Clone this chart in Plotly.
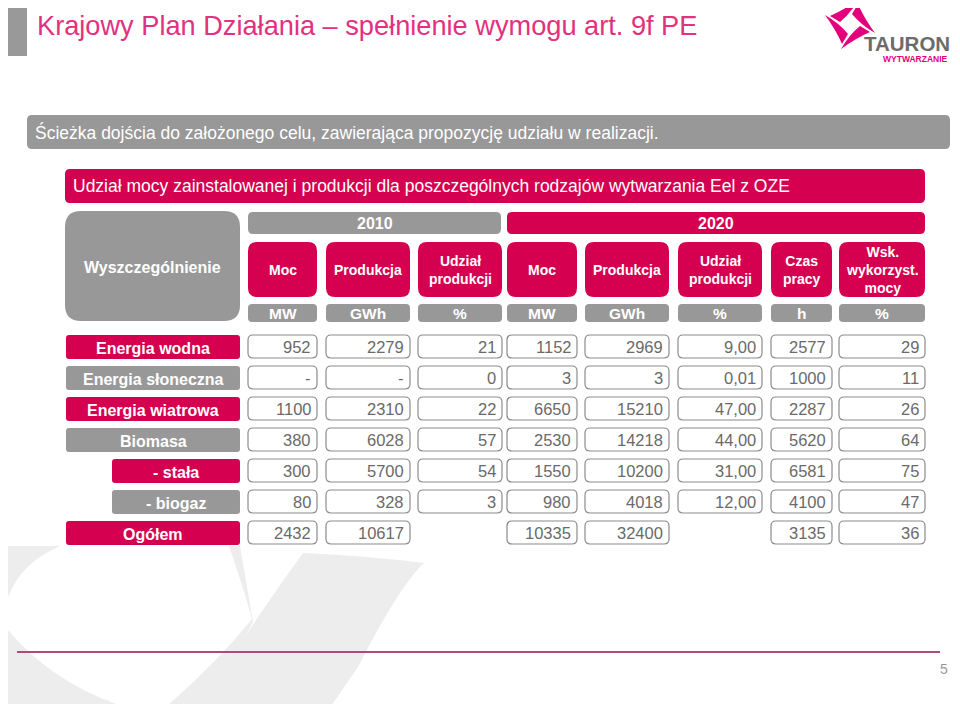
import plotly.graph_objects as go

# --- data ---
row_labels = ['Energia wodna', 'Energia słoneczna', 'Energia wiatrowa', 'Biomasa',
              '- stała', '- biogaz', 'Ogółem']
row_indent = [False, False, False, False, True, True, False]
row_pink = [True, False, True, False, True, False, True]

header_2010 = ['Moc', 'Produkcja', 'Udział<br>produkcji']
header_2020 = ['Moc', 'Produkcja', 'Udział<br>produkcji', 'Czas<br>pracy',
               'Wsk.<br>wykorzyst.<br>mocy']
units = ['MW', 'GWh', '%', 'MW', 'GWh', '%', 'h', '%']

# '-' = dash shown in the cell, None = no cell at all
moc_2010 = [952, '-', 1100, 380, 300, 80, 2432]
prod_2010 = [2279, '-', 2310, 6028, 5700, 328, 10617]
udzial_2010 = [21, 0, 22, 57, 54, 3, None]
moc_2020 = [1152, 3, 6650, 2530, 1550, 980, 10335]
prod_2020 = [2969, 3, 15210, 14218, 10200, 4018, 32400]
udzial_2020 = [9.00, 0.01, 47.00, 44.00, 31.00, 12.00, None]
czas_pracy = [2577, 1000, 2287, 5620, 6581, 4100, 3135]
wsk_wykorzyst = [29, 11, 26, 64, 75, 47, 36]

columns = [moc_2010, prod_2010, udzial_2010, moc_2020, prod_2020,
           udzial_2020, czas_pracy, wsk_wykorzyst]
decimals = [0, 0, 0, 0, 0, 2, 0, 0]

title = 'Krajowy Plan Działania – spełnienie wymogu art. 9f PE'
subtitle = 'Ścieżka dojścia do założonego celu, zawierająca propozycję udziału w realizacji.'
table_title = ('Udział mocy zainstalowanej i produkcji dla poszczególnych rodzajów '
               'wytwarzania Eel z OZE')

# --- look ---
PINK = '#d5004f'
GREY = '#989898'
TXT_GREY = '#6a6a6a'
FONT = 'Liberation Sans, Arial, sans-serif'
W, H = 960, 712
PAGE_MARGIN = 8  # default body margin of the html page

col_x = [(248, 317), (326, 410), (418, 502), (507, 577), (585, 669),
         (678, 762), (771, 832), (839, 925)]
row_y0 = 335
row_step = 31
row_h = 24


def rrect(x0, y0, x1, y1, r):
    return (f'M{x0+r},{y0} L{x1-r},{y0} Q{x1},{y0} {x1},{y0+r} '
            f'L{x1},{y1-r} Q{x1},{y1} {x1-r},{y1} L{x0+r},{y1} '
            f'Q{x0},{y1} {x0},{y1-r} L{x0},{y0+r} Q{x0},{y0} {x0+r},{y0} Z')


shapes = []
annots = []


def box(x0, y0, x1, y1, r, fill, line=None, lw=0):
    shapes.append(dict(type='path', path=rrect(x0, y0, x1, y1, r),
                       xref='x', yref='y', fillcolor=fill,
                       line=dict(color=line or fill, width=lw), layer='below'))


def text(x, y, s, size, color='white', bold=False, xanchor='center', yanchor='middle'):
    if bold:
        s = '<b>' + s.replace('<br>', '</b><br><b>') + '</b>'
    annots.append(dict(x=x, y=y, xref='x', yref='y', text=s, showarrow=False,
                       xanchor=xanchor, yanchor=yanchor, align='center',
                       font=dict(family=FONT, size=size, color=color)))


def fmt(v, d):
    if isinstance(v, str):
        return v
    if d:
        return f'{v:.{d}f}'.replace('.', ',')
    return f'{v:d}'


# background watermark (light grey swoosh bottom-left)
WM = '#ededed'
shapes.append(dict(type='path', xref='x', yref='y', fillcolor=WM, layer='below',
                   line=dict(width=0),
                   path='M0,546 L240,546 L253,622 L205,712 L0,712 Z'))
shapes.append(dict(type='path', xref='x', yref='y', fillcolor='white', layer='below',
                   line=dict(width=0),
                   path='M60,546 L229,546 Q244,590 252,619 Q215,665 160,712 '
                        'L143,712 Q55,690 2,623 Q8,568 60,546 Z'))
shapes.append(dict(type='path', xref='x', yref='y', fillcolor=WM, layer='below',
                   line=dict(width=0),
                   path='M303,553 Q370,556 424,563 Q400,585 358,667 L327,712 '
                        'L198,712 Q240,640 303,553 Z'))

# title block
shapes.append(dict(type='rect', xref='x', yref='y', x0=0, x1=27, y0=2, y1=56,
                   fillcolor='#999999', line=dict(width=0)))
text(35, 25, title, 27.2, color='#e2317e', xanchor='left')

# logo: pinwheel + wordmark
cx, cy = 850, 24
blade = [(-20, -8), (-6, -14), (9, -25), (1, -11), (-10, -2)]
for k in range(4):
    pts = []
    for (px, py) in blade:
        for _ in range(k):
            px, py = -py, px
        pts.append((cx + px, cy + py))
    p = pts
    path = (f'M{p[0][0]},{p[0][1]} Q{p[1][0]},{p[1][1]} {p[2][0]},{p[2][1]} '
            f'Q{p[3][0]},{p[3][1]} {p[4][0]},{p[4][1]} Z')
    shapes.append(dict(type='path', path=path, xref='x', yref='y',
                       fillcolor='#e4007c', line=dict(width=0)))
text(907, 43, 'TAURON', 20.5, color='#6b6b6b', bold=True)
text(915, 59, 'WYTWARZANIE', 8.5, color='#e4007c', bold=True)

# grey subtitle bar and pink table title bar
box(27, 115, 950, 149, 5, GREY)
text(33, 132, subtitle, 17.5, xanchor='left')
box(65, 169, 925, 203, 5, PINK)
text(71, 186, table_title, 17.5, xanchor='left')

# header area
box(65, 211, 240, 321, 16, GREY)
text(152, 267, 'Wyszczególnienie', 16, bold=True)
box(248, 212, 501, 234, 5, GREY)
text(375, 223, '2010', 16, bold=True)
box(507, 212, 925, 234, 5, PINK)
text(716, 223, '2020', 16, bold=True)

for (x0, x1), h in zip(col_x, header_2010 + header_2020):
    box(x0, 242, x1, 297, 9, PINK)
    text((x0 + x1) / 2, 270, h, 14, bold=True)
for (x0, x1), u in zip(col_x, units):
    box(x0, 304, x1, 322, 4, GREY)
    text((x0 + x1) / 2, 313.5, u, 15.5, bold=True)

# body rows
for i, lab in enumerate(row_labels):
    y0 = row_y0 + i * row_step
    y1 = y0 + row_h
    lx0 = 112 if row_indent[i] else 66
    box(lx0, y0, 240, y1, 3, PINK if row_pink[i] else GREY)
    text((lx0 + 240) / 2, (y0 + y1) / 2 + 1, lab, 16, bold=True)
    for (x0, x1), col, d in zip(col_x, columns, decimals):
        v = col[i]
        if v is None:
            continue
        box(x0, y0, x1, y1 - 1, 5, 'white', line='#8c8c8c', lw=1.2)
        text(x1 - 4, (y0 + y1) / 2, fmt(v, d), 16.5, color=TXT_GREY, xanchor='right')

# footer line and page number
shapes.append(dict(type='line', xref='x', yref='y', x0=17, x1=940, y0=652, y1=652,
                   line=dict(color='#b04a7e', width=2)))
text(950, 669, '5', 14, color='#9a9a9a', xanchor='right')

fig = go.Figure()
fig.update_layout(
    width=W - PAGE_MARGIN, height=H - 2 * PAGE_MARGIN,
    margin=dict(l=0, r=0, t=0, b=0),
    paper_bgcolor='white', plot_bgcolor='white',
    xaxis=dict(range=[PAGE_MARGIN, W], visible=False, fixedrange=True),
    yaxis=dict(range=[H - PAGE_MARGIN, PAGE_MARGIN], visible=False, fixedrange=True),
    shapes=shapes, annotations=annots, showlegend=False,
)
fig.write_html('out.html')
